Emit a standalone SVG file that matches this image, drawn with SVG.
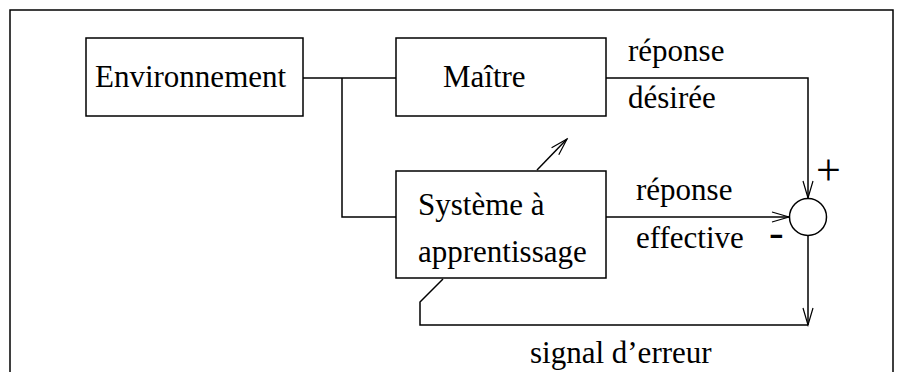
<svg xmlns="http://www.w3.org/2000/svg" width="905" height="372" viewBox="0 0 905 372" font-family="Liberation Serif" style="font-family:'Liberation Serif','Times New Roman',serif">
<defs>
<marker id="arr" viewBox="0 0 20 12" refX="18" refY="6" markerWidth="20" markerHeight="12" markerUnits="userSpaceOnUse" orient="auto"><path d="M1,1 L18,6 L1,11" fill="none" stroke="#000" stroke-width="1.2"/></marker>
</defs>
<rect width="905" height="372" fill="#fff"/>
<path d="M10,372 V10 H893 V372" fill="none" stroke="#000" stroke-width="1.5"/>
<g id="connectors" fill="none" stroke="#000" stroke-width="1.5">
<path d="M303,78 H396"/>
<path d="M342,78 V217 H396"/>
<path d="M606,78 H808 V198" marker-end="url(#arr)"/>
<path d="M606,217 H789" marker-end="url(#arr)"/>
<path d="M808,236 V325" marker-end="url(#arr)"/>
<path d="M808,325 H420 V302 L443,279"/>
<path d="M537,170 L567,139" marker-end="url(#arr)"/>
</g>
<g id="environnement"><rect x="86" y="38" width="217" height="78" fill="#fff" stroke="#000" stroke-width="1.5"/><text x="95" y="87" style="font-family:'Liberation Serif','Times New Roman',serif;font-size:31px">Environnement</text></g>
<g id="maitre"><rect x="396" y="38" width="210" height="78" fill="#fff" stroke="#000" stroke-width="1.5"/><text x="443" y="87" style="font-family:'Liberation Serif','Times New Roman',serif;font-size:31px">Maître</text></g>
<g id="systeme"><rect x="396" y="171" width="210" height="107" fill="#fff" stroke="#000" stroke-width="1.5"/><text x="418" y="215" style="font-family:'Liberation Serif','Times New Roman',serif;font-size:31px">Système à</text><text x="418" y="262" style="font-family:'Liberation Serif','Times New Roman',serif;font-size:31px">apprentissage</text></g>
<g id="sommateur"><circle cx="808" cy="217" r="18.5" fill="#fff" stroke="#000" stroke-width="1.5"/></g>
<text x="628" y="61" style="font-family:'Liberation Serif','Times New Roman',serif;font-size:31px">réponse</text>
<text x="628" y="108" style="font-family:'Liberation Serif','Times New Roman',serif;font-size:31px">désirée</text>
<text x="636" y="200" style="font-family:'Liberation Serif','Times New Roman',serif;font-size:31px">réponse</text>
<text x="636" y="248" style="font-family:'Liberation Serif','Times New Roman',serif;font-size:31px">effective</text>
<text x="769" y="247" style="font-family:'Liberation Serif','Times New Roman',serif;font-size:44px">-</text>
<text x="816" y="185" style="font-family:'Liberation Serif','Times New Roman',serif;font-size:44px">+</text>
<text x="530" y="363" style="font-family:'Liberation Serif','Times New Roman',serif;font-size:31px">signal d’erreur</text>
</svg>
